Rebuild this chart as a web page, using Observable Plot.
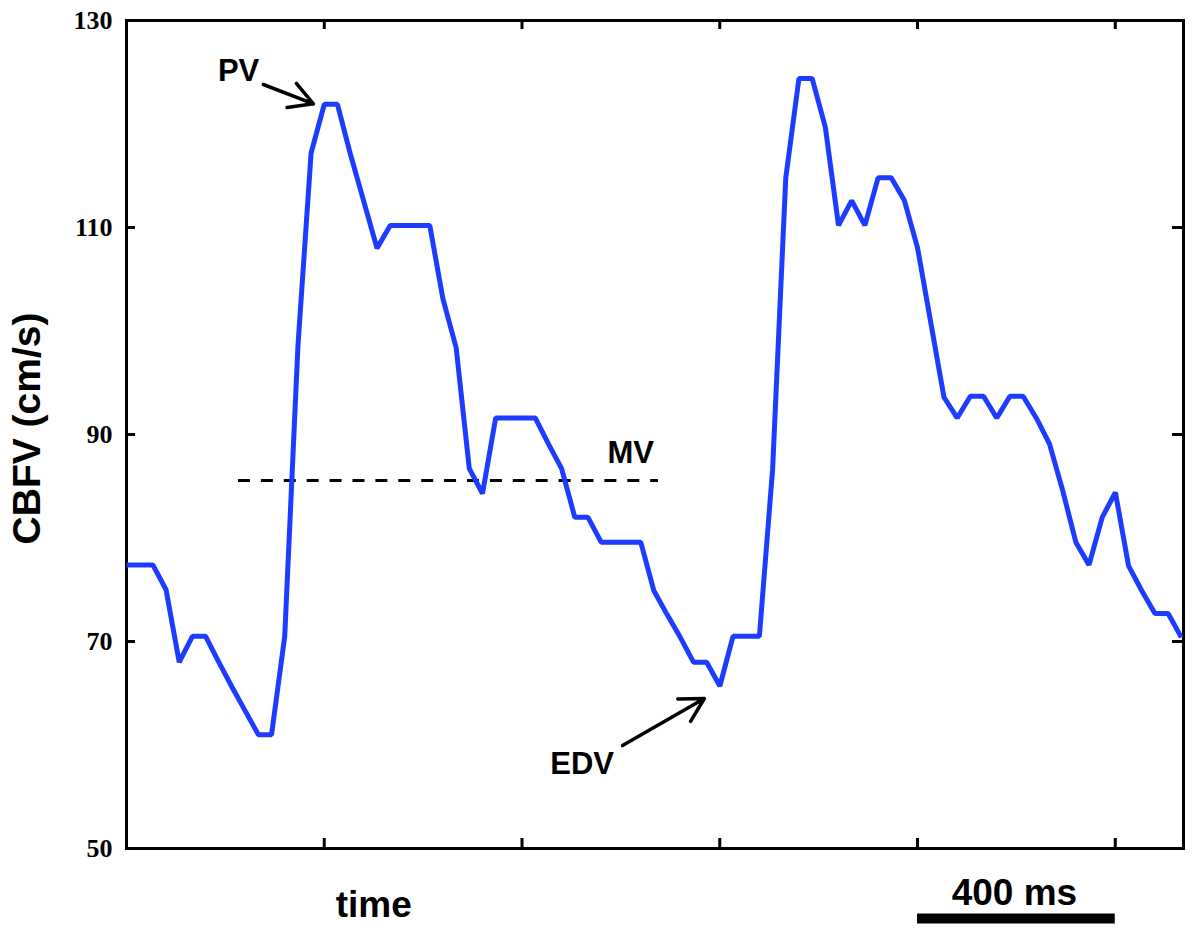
<!DOCTYPE html>
<html>
<head>
<meta charset="utf-8">
<script src="https://cdn.jsdelivr.net/npm/d3@7"></script>
<script src="https://cdn.jsdelivr.net/npm/@observablehq/plot@0.6"></script>
<style>
  html, body { margin: 0; padding: 0; background: #fff; }
  #chart svg { display: block; }
</style>
</head>
<body>
<div id="chart"></div>
<script>
// ---- Data ----
const sampleMs = 26.67;            // sampling period of the CBFV trace (ms)
const cbfv = [
  77.4, 77.4, 77.4, 75.0, 68.0, 70.5, 70.5, 68.0, 65.6, 63.3,
  61.0, 61.0, 70.5, 98.5, 117.2, 121.9, 121.9, 117.0, 112.5, 108.0,
  110.2, 110.2, 110.2, 110.2, 103.1, 98.4, 86.7, 84.3, 91.6, 91.6,
  91.6, 91.6, 89.1, 86.7, 82.0, 82.0, 79.6, 79.6, 79.6, 79.6,
  74.9, 72.6, 70.4, 68.0, 68.0, 65.7, 70.5, 70.5, 70.5, 86.6,
  114.8, 124.4, 124.4, 119.7, 110.2, 112.6, 110.2, 114.8, 114.8, 112.6,
  108.0, 100.8, 93.6, 91.6, 93.7, 93.7, 91.6, 93.7, 93.7, 91.6,
  89.1, 84.6, 79.6, 77.4, 82.0, 84.4, 77.3, 74.9, 72.7, 72.7,
  70.4
];
const yTicks = [50, 70, 90, 110, 130];
const xTicks = [400, 800, 1200, 1600, 2000];   // ms
const xDomain = [0, 2138];
const yDomain = [50, 130];

const meanVelocity = 85.55;           // MV
const mvSpan = [226.5, 1076.1];       // ms, extent of dashed MV line

const labels = ["PV", "MV", "EDV"];
const labelT = [226.7, 1019.8, 921.5];
const labelV = [125.1, 88.24, 58.13];

// arrows: [startT, startV, tipT, tipV]
const pvArrow = [276.6, 123.82, 378.1, 121.95];
const edvArrow = [1003.3, 59.95, 1168.8, 64.49];

const scaleBar = {t1: 1600, t2: 2000, v: 43.24, label: "400 ms", labelT: 1796, labelV: 45.67};
const xLabel = {text: "time", t: 500, v: 44.49};
const yLabel = {text: "CBFV (cm/s)", t: -200, v: 90.58};

// ---- Build ----
const trace = cbfv.map((v, i) => ({t: i * sampleMs, v}));
const W = 1200, H = 945, mL = 126, mR = 17, mT = 20, mB = 97;
const frameW = W - mL - mR, frameH = H - mT - mB;
const blue = "#1e3cff";
const sans = "Liberation Sans, Arial, sans-serif";

// PV arrow: extend start back along the shaft and trim with insetStart so the head is not capped
const ext = 1.5;
const pvExt = {
  t1: pvArrow[2] + ext * (pvArrow[0] - pvArrow[2]),
  v1: pvArrow[3] + ext * (pvArrow[1] - pvArrow[3]),
  t2: pvArrow[2], v2: pvArrow[3]
};

const chart = Plot.plot({
  width: W, height: H,
  marginLeft: mL, marginRight: mR, marginTop: mT, marginBottom: mB,
  style: {fontFamily: sans, background: "#fff", color: "#000"},
  x: {domain: xDomain, axis: null},
  y: {domain: yDomain, axis: null},
  marks: [
    // y tick labels (serif bold)
    Plot.axisY(yTicks, {tickSize: 0, tickPadding: 14, fontFamily: "Liberation Serif, Times New Roman, serif", fontWeight: "bold", fontSize: 26, label: null, tickFormat: d => String(d)}),
    // inward ticks
    Plot.ruleY(yTicks, {insetRight: frameW - 9, strokeWidth: 3, stroke: "#000"}),
    Plot.ruleY(yTicks, {insetLeft: frameW - 11, strokeWidth: 3, stroke: "#000"}),
    Plot.ruleX(xTicks, {insetTop: frameH - 10, strokeWidth: 3, stroke: "#000"}),
    Plot.ruleX(xTicks, {insetBottom: frameH - 9, strokeWidth: 3, stroke: "#000"}),
    Plot.frame({stroke: "#000", strokeWidth: 3}),
    // MV dashed line
    Plot.ruleY([meanVelocity], {x1: () => mvSpan[0], x2: () => mvSpan[1], y: d => d, stroke: "#000", strokeWidth: 3, strokeDasharray: "12,10.9"}),
    // CBFV trace
    Plot.line(trace, {x: "t", y: "v", stroke: blue, strokeWidth: 5, strokeLinejoin: "miter", strokeLinecap: "butt"}),
    // annotation labels
    Plot.text(labels, {x: (d, i) => labelT[i], y: (d, i) => labelV[i], text: d => d, fontSize: 31, fontWeight: "bold", fill: "#000"}),
    // arrows
    Plot.arrow([pvExt], {x1: "t1", y1: "v1", x2: "t2", y2: "v2", stroke: "#000", strokeWidth: 3.5, headLength: 11.4, headAngle: 58, insetStart: 27}),
    Plot.arrow([edvArrow], {x1: d => d[0], y1: d => d[1], x2: d => d[2], y2: d => d[3], stroke: "#000", strokeWidth: 3.5, headLength: 11.4, headAngle: 58}),
    // scale bar
    Plot.ruleY([scaleBar], {x1: "t1", x2: "t2", y: "v", stroke: "#000", strokeWidth: 10}),
    Plot.text([scaleBar], {x: "labelT", y: "labelV", text: "label", fontSize: 37, fontWeight: "bold", fill: "#000"}),
    // axis titles
    Plot.text([xLabel], {x: "t", y: "v", text: "text", fontSize: 37, fontWeight: "bold", fill: "#000"}),
    Plot.text([yLabel], {x: "t", y: "v", text: "text", rotate: -90, fontSize: 39, fontWeight: "bold", fill: "#000"})
  ]
});
document.getElementById("chart").appendChild(chart);
</script>
</body>
</html>
